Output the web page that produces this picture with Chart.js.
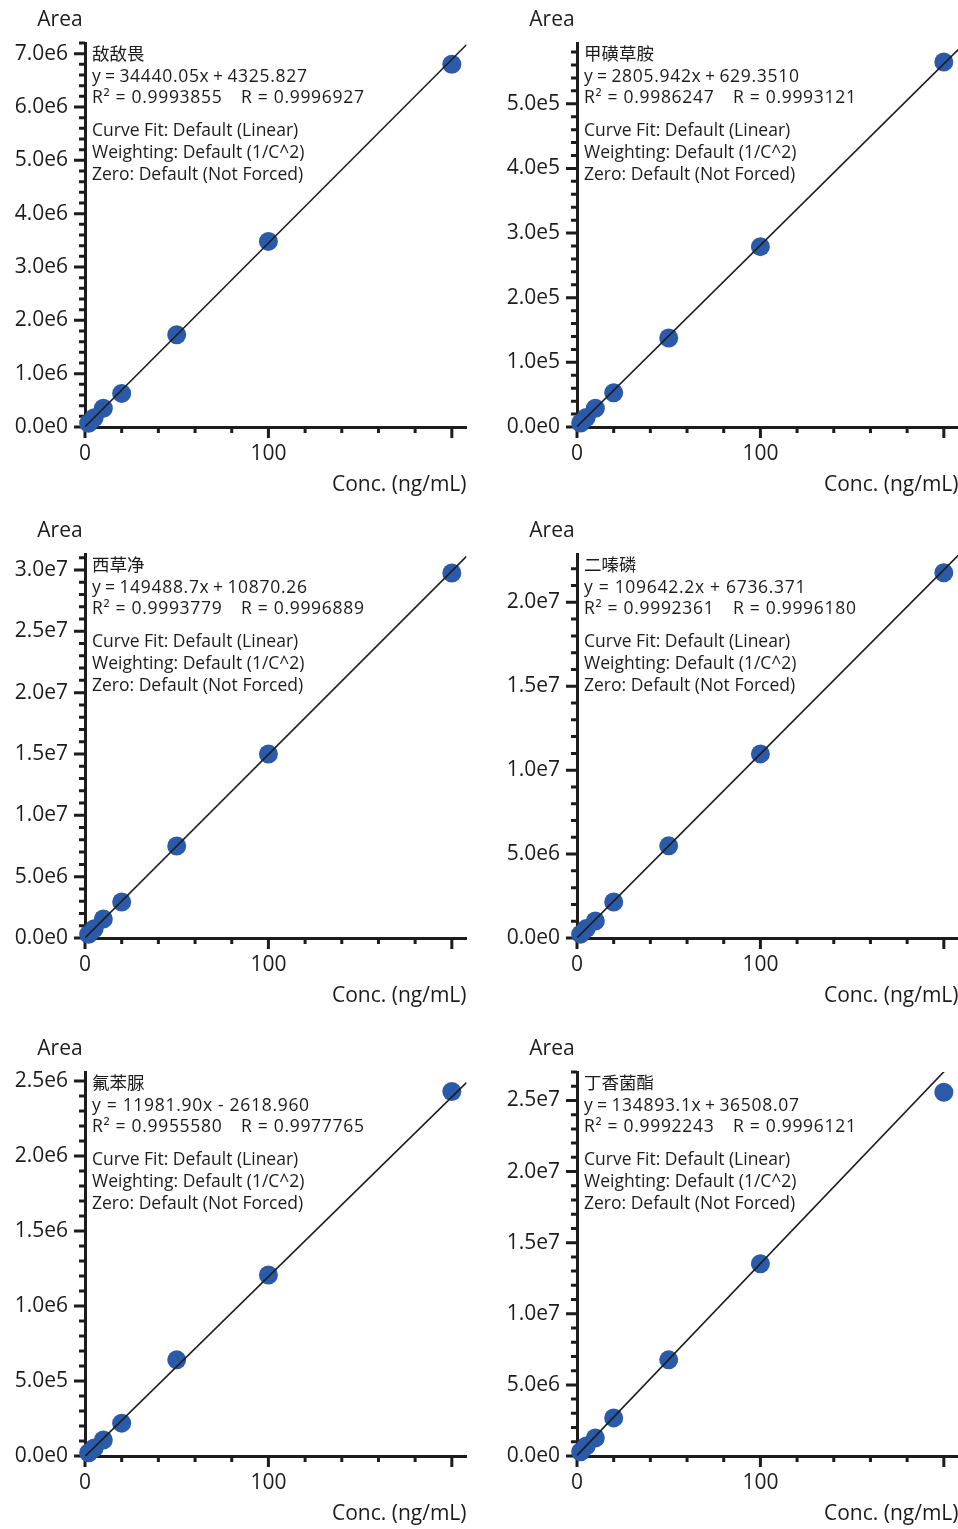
<!DOCTYPE html>
<html>
<head>
<meta charset="utf-8">
<script src="https://cdn.jsdelivr.net/npm/chart.js@4.4.1/dist/chart.umd.min.js"></script>
<style>
  html, body { margin: 0; padding: 0; background: #fff; }
  body { width: 958px; height: 1529px; position: relative; overflow: hidden; }
  .panel { position: absolute; width: 476px; height: 510px; }
</style>
</head>
<body>
<div class="panel" style="left:0;top:0"><canvas id="c0"></canvas></div>
<div class="panel" style="left:492px;top:0"><canvas id="c1"></canvas></div>
<div class="panel" style="left:0;top:511px"><canvas id="c2"></canvas></div>
<div class="panel" style="left:492px;top:511px"><canvas id="c3"></canvas></div>
<div class="panel" style="left:0;top:1029px"><canvas id="c4"></canvas></div>
<div class="panel" style="left:492px;top:1029px"><canvas id="c5"></canvas></div>
<script>
// concentration levels (ng/mL)
const concentrations = [2, 5, 10, 20, 50, 100, 200];

const compoundNames = ['敌敌畏', '甲磺草胺', '西草净', '二嗪磷', '氟苯脲', '丁香菌酯'];

// peak areas
const areaDichlorvos   = [70000, 175000, 350000, 630000, 1730000, 3480000, 6800000];
const areaSulfentrazone = [6200, 14800, 29000, 53000, 137800, 279000, 564500];
const areaSimetryn     = [310000, 760000, 1550000, 2930000, 7500000, 15000000, 29750000];
const areaDiazinon     = [230000, 560000, 1010000, 2150000, 5490000, 10970000, 21760000];
const areaTeflubenzuron = [22000, 53000, 107000, 219000, 641000, 1207000, 2430000];
const areaCoumoxystrobin = [300000, 700000, 1270000, 2680000, 6760000, 13520000, 25580000];
const areaSeries = [areaDichlorvos, areaSulfentrazone, areaSimetryn, areaDiazinon, areaTeflubenzuron, areaCoumoxystrobin];

// regression results as printed
const slopes = [34440.05, 2805.942, 149488.7, 109642.2, 11981.90, 134893.1];
const intercepts = [4325.827, 629.3510, 10870.26, 6736.371, -2618.960, 36508.07];
const equationLabels = [
  'y\u2009=\u200934440.05x\u2009+\u20094325.827',
  'y\u2009=\u20092805.942x\u2009+\u2009629.3510',
  'y\u2009=\u2009149488.7x\u2009+\u200910870.26',
  'y = 109642.2x + 6736.371',
  'y = 11981.90x - 2618.960',
  'y\u2009=\u2009134893.1x\u2009+\u200936508.07'
];
const rSquaredLabels = ['0.9993855', '0.9986247', '0.9993779', '0.9992361', '0.9955580', '0.9992243'];
const rLabels = ['0.9996927', '0.9993121', '0.9996889', '0.9996180', '0.9977765', '0.9996121'];
const fitInfoLines = ['Curve Fit: Default (Linear)', 'Weighting: Default (1/C^2)', 'Zero: Default (Not Forced)'];

// axes
const yAxisMax = [7.2e6, 5.94e5, 3.13e7, 2.288e7, 2.56e6, 2.70e7];
const yMajorStep = [1e6, 1e5, 5e6, 5e6, 5e5, 5e6];
const yMinorStep = [2e5, 2e4, 1e6, 1e6, 1e5, 1e6];
const xAxisMax = 208;
const xMinorStep = 20;
const xMajorStep = 100;
const xTickLabels = [0, 100];

const FONT = "'Open Sans', 'Noto Sans CJK SC', sans-serif";
const INK = '#1c1c1c';
const DOT = '#2a5aa8';

Chart.defaults.font.family = FONT;
Chart.defaults.color = INK;

function isMajor(v, step) {
  const r = v / step;
  return Math.abs(r - Math.round(r)) < 1e-6;
}

function stepTicks(max, step) {
  const out = [];
  for (let i = 0; i * step <= max + 1e-9; i++) out.push({ value: i * step });
  return out;
}

const panelDecor = {
  id: 'panelDecor',
  beforeDatasetsDraw(chart, args, o) {
    const { ctx, chartArea, scales } = chart;
    ctx.save();
    ctx.strokeStyle = INK;
    ctx.lineWidth = 3;
    ctx.beginPath();
    scales.y.ticks.forEach(t => {
      const py = scales.y.getPixelForValue(t.value);
      const len = isMajor(t.value, o.yMajor) ? 11 : 6;
      ctx.moveTo(chartArea.left - len, py);
      ctx.lineTo(chartArea.left, py);
    });
    scales.x.ticks.forEach(t => {
      const px = scales.x.getPixelForValue(t.value);
      const len = isMajor(t.value, xMajorStep) ? 11 : 6;
      ctx.moveTo(px, chartArea.bottom);
      ctx.lineTo(px, chartArea.bottom + len);
    });
    ctx.stroke();

    // y axis title, set above the axis
    ctx.fillStyle = INK;
    ctx.font = '21px ' + FONT;
    ctx.textAlign = 'center';
    ctx.textBaseline = 'middle';
    ctx.fillText('Area', chartArea.left - 25, 20);

    // fit summary
    const x0 = chartArea.left + 7;
    const t0 = chartArea.top;
    ctx.textAlign = 'left';
    ctx.font = '17.5px ' + FONT;
    ctx.fillText(o.name, x0, t0 + 12);
    ctx.letterSpacing = '0.7px';
    ctx.fillText(o.equation, x0, t0 + 34);
    ctx.fillText('R\u00B2 = ' + o.r2, x0, t0 + 55);
    ctx.fillText('R = ' + o.r, x0 + 149, t0 + 55);
    ctx.letterSpacing = '0px';
    fitInfoLines.forEach((s, i) => ctx.fillText(s, x0, t0 + 88 + i * 22));
    ctx.restore();
  }
};

function makePanel(i) {
  const areas = areaSeries[i];
  const pts = concentrations.map((c, k) => ({ x: c, y: areas[k] }));
  const fit = [0, xAxisMax].map(c => ({ x: c, y: slopes[i] * c + intercepts[i] }));
  return new Chart(document.getElementById('c' + i), {
    type: 'scatter',
    data: {
      datasets: [
        {
          type: 'line',
          data: fit,
          borderColor: INK,
          borderWidth: 1.6,
          pointRadius: 0,
          order: 0
        },
        {
          data: pts,
          backgroundColor: DOT,
          borderWidth: 0,
          pointRadius: 9.5,
          pointHoverRadius: 9.5,
          clip: false,
          order: 1
        }
      ]
    },
    options: {
      animation: false,
      responsive: true,
      maintainAspectRatio: false,
      layout: { padding: { top: 43, right: 1, left: 0, bottom: 0 } },
      plugins: {
        legend: { display: false },
        tooltip: { enabled: false },
        panelDecor: {
          yMajor: yMajorStep[i],
          name: compoundNames[i],
          equation: equationLabels[i],
          r2: rSquaredLabels[i],
          r: rLabels[i]
        }
      },
      scales: {
        x: {
          type: 'linear',
          min: 0,
          max: xAxisMax,
          afterBuildTicks: s => { s.ticks = stepTicks(xAxisMax, xMinorStep); },
          afterFit: s => { s.height = 83; },
          grid: { display: false, drawTicks: false },
          border: { display: true, color: INK, width: 3 },
          ticks: {
            autoSkip: false,
            maxRotation: 0,
            padding: 14,
            font: { size: 21 },
            callback: v => xTickLabels.includes(v) ? String(v) : ''
          },
          title: {
            display: true,
            text: 'Conc. (ng/mL)',
            align: 'end',
            font: { size: 21 },
            padding: { top: 0, bottom: 12 }
          }
        },
        y: {
          type: 'linear',
          min: 0,
          max: yAxisMax[i],
          afterBuildTicks: s => { s.ticks = stepTicks(yAxisMax[i], yMinorStep[i]); },
          afterFit: s => { s.width = 85; },
          grid: { display: false, drawTicks: false },
          border: { display: true, color: INK, width: 3 },
          ticks: {
            autoSkip: false,
            padding: 17,
            font: { size: 21 },
            callback: v => isMajor(v, yMajorStep[i]) ? v.toExponential(1).replace('e+', 'e') : ''
          }
        }
      }
    },
    plugins: [panelDecor]
  });
}

for (let i = 0; i < 6; i++) makePanel(i);
</script>
</body>
</html>
